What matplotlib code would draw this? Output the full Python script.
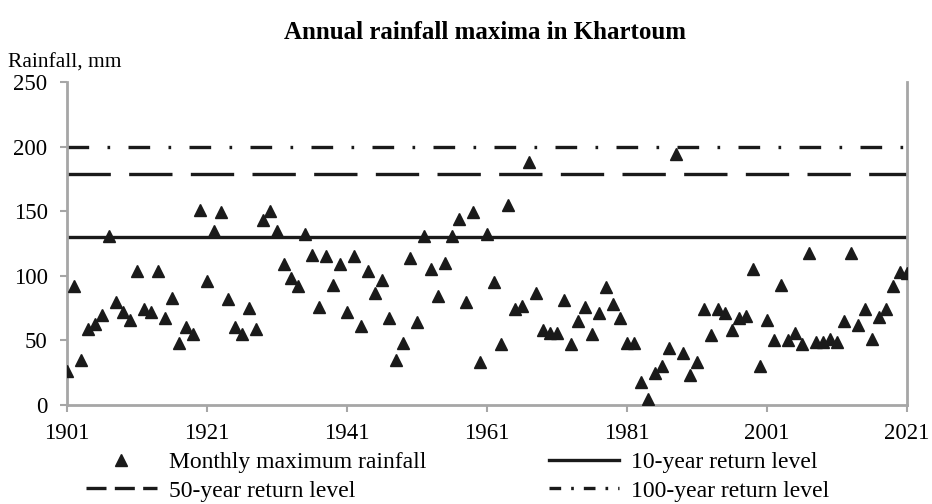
import matplotlib
matplotlib.use("Agg")
import matplotlib.pyplot as plt
from matplotlib.lines import Line2D

years = list(range(1901, 2022))
rainfall = [
    26, 92, 35, 59, 63, 70, 131, 80, 72, 66,
    104, 74, 72, 104, 67, 83, 48, 60, 55, 151,
    96, 135, 149, 82, 60, 55, 75, 59, 143, 150,
    135, 109, 98, 92, 132, 116, 76, 115, 93, 109,
    72, 115, 61, 104, 87, 97, 67, 35, 48, 114,
    64, 131, 105, 84, 110, 131, 144, 80, 149, 33,
    132, 95, 47, 155, 74, 77, 188, 87, 58, 56,
    56, 81, 47, 65, 76, 55, 71, 91, 78, 67,
    48, 48, 18, 5, 25, 30, 44, 194, 40, 23,
    33, 74, 54, 74, 71, 58, 67, 69, 105, 30,
    66, 50, 93, 50, 56, 47, 118, 49, 49, 51,
    49, 65, 118, 62, 74, 51, 68, 74, 92, 103,
    102,
]
return_10 = 130
return_50 = 179
return_100 = 200
xticks = [1901, 1921, 1941, 1961, 1981, 2001, 2021]
yticks = [0, 50, 100, 150, 200, 250]

plt.rcParams["font.family"] = ["Liberation Serif", "DejaVu Serif"]

fig = plt.figure(figsize=(9.32, 5.04), dpi=100)
ax = fig.add_axes([0.0719, 0.1964, 0.9013, 0.6409])

grey = "#a6a6a6"
ink = "#1a1a1a"
ax.axhline(return_10, color=ink, lw=2.4, zorder=2)
ax.axhline(return_50, color=ink, lw=2.4, dashes=(13, 5.5), zorder=2)
ax.axhline(return_100, color=ink, lw=2.4, dashes=(6.5, 5.5, 0.8, 5.5), zorder=2)
ax.plot(years, rainfall, ls="none", marker="^", ms=9, color=ink, zorder=3)

ax.set_xlim(1901, 2021)
ax.set_ylim(0, 250)
ax.set_xticks(xticks)
ax.set_yticks(yticks)
ax.tick_params(axis="both", colors=grey, labelcolor="black", labelsize=16.5,
               width=1.5, length=5)
ax.tick_params(axis="x", pad=8)
ax.tick_params(axis="y", pad=9)
for side in ("left", "bottom", "right"):
    ax.spines[side].set_color(grey)
    ax.spines[side].set_linewidth(2)
ax.spines["top"].set_visible(False)

fig.text(0.52, 0.935, "Annual rainfall maxima in Khartoum", ha="center", va="center",
         fontsize=18, fontweight="bold")
fig.text(0.009, 0.875, "Rainfall, mm", ha="left", va="center", fontsize=15.5)

handles = [
    Line2D([], [], ls="none", marker="^", ms=8, color=ink),
    Line2D([], [], color=ink, lw=2.4, dashes=(6, 2.5)),
    Line2D([], [], color=ink, lw=2.4),
    Line2D([], [], color=ink, lw=2.4, dashes=(3.5, 3, 0.8, 3)),
]
labels = [
    "Monthly maximum rainfall",
    "50-year return level",
    "10-year return level",
    "100-year return level",
]
fig.legend(handles, labels, ncol=2, frameon=False, fontsize=17,
           loc="lower left", bbox_to_anchor=(0.082, -0.014),
           handlelength=3.0, handletextpad=0.5, columnspacing=5.2,
           labelspacing=0.3, borderaxespad=0)

fig.savefig("out.png", dpi=100)
